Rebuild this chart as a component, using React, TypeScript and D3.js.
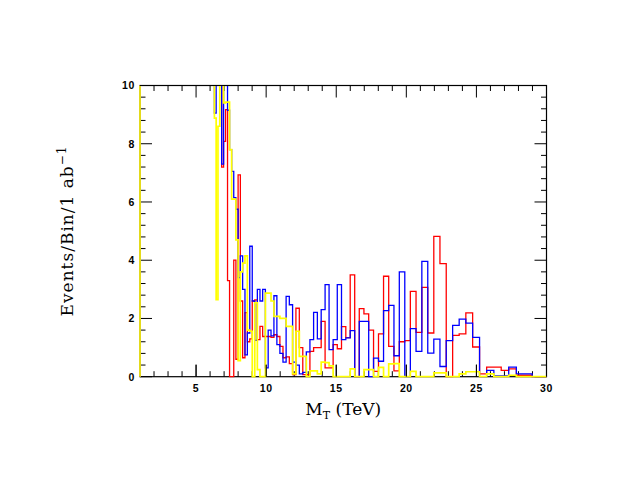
import React from "react";
import * as d3 from "d3";

// Log-uniform binning: bin k spans [RATIO^k, RATIO^(k+1)] TeV, starting at 1 TeV.
const BIN_RATIO = 1.02;
const FIRST_BIN = 90; // all bins below this are off scale (> 10) for every series
const OFF_SCALE = 12; // stand-in value for bins above the plotted range

const X_TICKS = [5, 10, 15, 20, 25, 30];
const Y_TICKS = [0, 2, 4, 6, 8, 10];

// Values per bin, starting at bin FIRST_BIN (x ≈ 5.94 TeV) up to bin 171.
const redValues = [
  12, 12, 12, 12, 12, 12, 12, 7.2, 8.08, 9.17,
  3.3, 0, 0, 4.0, 0.6, 6.93, 2.6, 0.65, 2.2, 1.2,
  1.3, 2.6, 2.64, 1.27, 1.73, 1.38, 1.38, 1.38, 1.35, 1.44,
  1.38, 1.04, 0.65, 0.68, 0.45, 0.07, 2.35, 1.0, 0.07, 0.07,
  0.87, 1.0, 1.0, 1.9, 0.3, 0.3, 1.1, 0.96, 1.72, 1.34,
  3.5, 0, 2.34, 2.16, 1.6, 0.18, 1.47, 3.45, 1.04, 0.2,
  1.2, 1.24, 2.93, 1.52, 3.07, 1.5, 4.82, 3.88, 0, 1.42,
  1.47, 2.19, 1.02, 0.1, 0.33, 0.33, 0.22, 0.27, 0.05, 0.05,
  0, 0,
];

const blueValues = [
  12, 12, 12, 9.05, 12, 12, 12, 7.3, 12, 12,
  9.15, 7.8, 7.05, 6.15, 5.75, 3.4, 4.15, 3.0, 0.75, 1.5,
  4.48, 2.6, 1.25, 3.0, 2.6, 3.0, 0.3, 1.6, 1.4, 2.78,
  1.1, 0.8, 0.5, 2.76, 2.47, 0.5, 0.4, 0.1, 0.15, 0.85,
  1.27, 2.21, 1.3, 2.3, 3.16, 0.93, 1.27, 3.16, 1.27, 1.33,
  1.58, 0, 1.9, 1.9, 0, 0.64, 0.53, 2.27, 2.45, 0.72,
  3.6, 0, 1.65, 0.87, 3.96, 0.81, 1.29, 0.35, 1.24, 1.76,
  1.98, 1.84, 1.35, 0, 0.22, 0.03, 0.03, 0.33, 0.1, 0.1,
  0, 0,
];

const yellowValues = [
  12, 12, 12, 8.88, 2.65, 8.6, 12, 12, 9.4, 9.43,
  9.43, 7.8, 6.1, 6.1, 4.7, 0.55, 3.6, 3.9, 4.15, 1.6,
  1.56, 0, 2.54, 0.24, 0, 0, 2.87, 2.87, 2.6, 2.07,
  2.07, 2.0, 2.0, 1.73, 1.73, 0.1, 1.56, 0.7, 0.7, 0,
  0.2, 0.2, 0.1, 0.5, 0.48, 0.37, 0, 0, 0, 0,
  0.27, 0, 0, 0.24, 0.24, 0, 0.32, 0, 0.44, 0.45,
  0, 0, 0.18, 0, 0, 0, 0.13, 0.13, 0, 0,
  0.1, 0.17, 0.17, 0, 0.1, 0, 0, 0.05, 0, 0,
  0, 0,
];

const SERIES = [
  { name: "red", color: "#ff0000", width: 1.3, values: redValues },
  { name: "blue", color: "#0000ff", width: 1.3, values: blueValues },
  { name: "yellow", color: "#ffff00", width: 1.7, values: yellowValues },
];

const W = 627;
const H = 485;
const PLOT = { left: 140, right: 546.5, top: 85.5, bottom: 376.7 };

type Pt = { x: number; v: number };

function histPoints(values: number[]): Pt[] {
  const pts: Pt[] = [
    { x: 1, v: 0 },
    { x: 1, v: OFF_SCALE },
  ];
  values.forEach((v, i) => {
    pts.push({ x: Math.pow(BIN_RATIO, FIRST_BIN + i), v });
  });
  const last = Math.pow(BIN_RATIO, FIRST_BIN + values.length);
  pts.push({ x: last, v: values[values.length - 1] });
  pts.push({ x: last, v: 0 });
  return pts;
}

export default function App() {
  const x = d3.scaleLinear().domain([1, 30]).range([PLOT.left, PLOT.right]);
  const y = d3.scaleLinear().domain([0, 10]).range([PLOT.bottom, PLOT.top]);

  const line = d3
    .line<Pt>()
    .x((d) => x(d.x))
    .y((d) => y(d.v))
    .curve(d3.curveStepAfter);

  const xMinor = d3.range(2, 30, 1);
  const yMinor = d3.range(0, 10.001, 0.4);
  const MAJ = 12;
  const MIN = 5.5;
  const tickColor = "#000";

  const sans = "'Liberation Sans', Arial, Helvetica, sans-serif";
  const serif = "'DejaVu Serif', 'Liberation Serif', serif";

  return (
    <svg
      width={W}
      height={H}
      style={{ position: "absolute", left: 0, top: 0, background: "#fff" }}
    >
      <defs>
        <clipPath id="plotClip">
          <rect
            x={PLOT.left - 1}
            y={PLOT.top}
            width={PLOT.right - PLOT.left + 1}
            height={PLOT.bottom - PLOT.top + 1}
          />
        </clipPath>
      </defs>
      {/* frame */}
      <rect
        x={PLOT.left}
        y={PLOT.top}
        width={PLOT.right - PLOT.left}
        height={PLOT.bottom - PLOT.top}
        fill="none"
        stroke="#000"
        strokeWidth={1.2}
      />
      {/* ticks (under the histograms on the left edge) */}
      <g stroke={tickColor} strokeWidth={1}>
        {xMinor.map((t) => (
          <g key={"xm" + t}>
            <line x1={x(t)} x2={x(t)} y1={PLOT.bottom} y2={PLOT.bottom - (X_TICKS.includes(t) ? MAJ : MIN)} />
            <line x1={x(t)} x2={x(t)} y1={PLOT.top} y2={PLOT.top + (X_TICKS.includes(t) ? MAJ : MIN)} />
          </g>
        ))}
        {yMinor.map((t, i) => {
          const major = i % 5 === 0;
          const len = major ? MAJ : MIN;
          return (
            <g key={"ym" + i}>
              <line x1={PLOT.left} x2={PLOT.left + len} y1={y(t)} y2={y(t)} />
              <line x1={PLOT.right} x2={PLOT.right - len} y1={y(t)} y2={y(t)} />
            </g>
          );
        })}
      </g>
      {/* histograms */}
      <g clipPath="url(#plotClip)">
        {SERIES.map((s) => (
          <path
            key={s.name}
            d={line(histPoints(s.values)) || ""}
            fill="none"
            stroke={s.color}
            strokeWidth={s.width}
          />
        ))}
      </g>
      {/* top border redrawn */}
      <line
        x1={PLOT.left}
        x2={PLOT.right}
        y1={PLOT.top}
        y2={PLOT.top}
        stroke="#000"
        strokeWidth={1.2}
      />
      {/* bottom major ticks drawn over the histograms */}
      <g stroke={tickColor} strokeWidth={1}>
        {X_TICKS.map((t) => (
          <line key={"xM" + t} x1={x(t)} x2={x(t)} y1={PLOT.bottom} y2={PLOT.bottom - MAJ} />
        ))}
      </g>
      {/* tick labels */}
      <g fontFamily={sans} fontSize={10.5} fontWeight="bold" fill="#000">
        {X_TICKS.map((t) => (
          <text key={"xl" + t} x={x(t)} y={391.5} textAnchor="middle" letterSpacing={0.6}>
            {t}
          </text>
        ))}
        {Y_TICKS.map((t) => (
          <text key={"yl" + t} x={135} y={y(t) + 3.8} textAnchor="end" letterSpacing={0.6}>
            {t}
          </text>
        ))}
      </g>
      {/* axis titles */}
      <text
        x={(PLOT.left + PLOT.right) / 2}
        y={415}
        textAnchor="middle"
        fontFamily={serif}
        fontSize={17}
        fill="#000"
      >
        M
        <tspan fontSize={11} dy={4}>
          T
        </tspan>
        <tspan dy={-4}> (TeV)</tspan>
      </text>
      <text
        transform={`translate(73, 231) rotate(-90)`}
        textAnchor="middle"
        fontFamily={serif}
        fontSize={17}
        letterSpacing={1}
        fill="#000"
      >
        Events/Bin/1 ab
        <tspan fontSize={12} dy={-7}>
          −1
        </tspan>
      </text>
    </svg>
  );
}
